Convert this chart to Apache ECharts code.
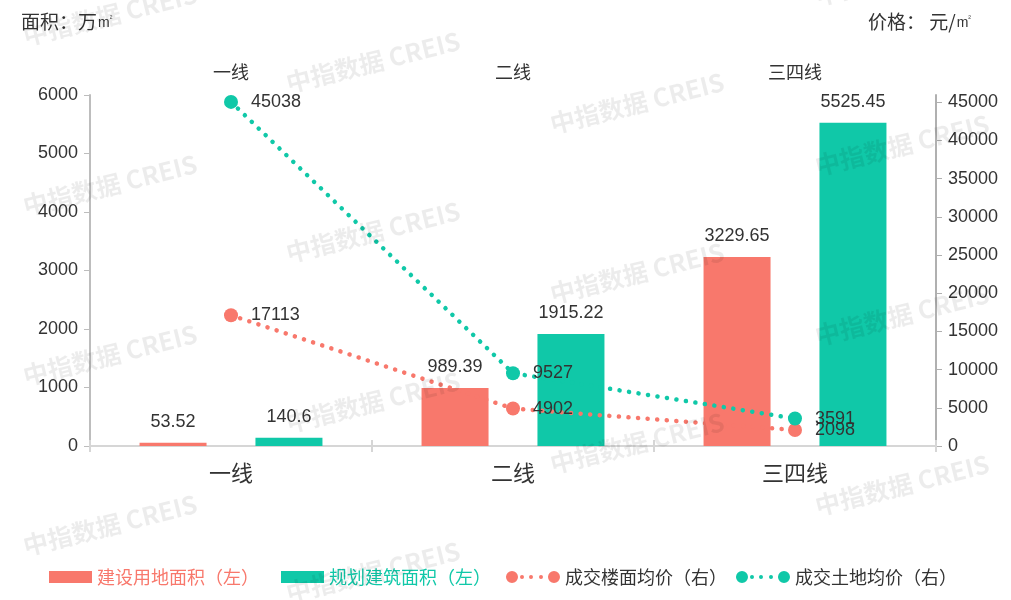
<!DOCTYPE html>
<html>
<head>
<meta charset="utf-8">
<style>
html,body{margin:0;padding:0;background:#fff;}
#chart{width:1011px;height:600px;}
</style>
<script src="https://cdn.jsdelivr.net/npm/echarts@6/dist/echarts.min.js"></script>
</head>
<body>
<div id="chart"></div>
<script>
const categories = ['一线', '二线', '三四线'];
const landArea = [53.52, 989.39, 3229.65];       // 建设用地面积（左）
const buildArea = [140.6, 1915.22, 5525.45];     // 规划建筑面积（左）
const floorPrice = [17113, 4902, 2098];          // 成交楼面均价（右）
const landPrice = [45038, 9527, 3591];           // 成交土地均价（右）
const seriesNames = ['建设用地面积（左）', '规划建筑面积（左）', '成交楼面均价（右）', '成交土地均价（右）'];

const RED = '#F8786C';
const GREEN = '#10C8A8';
const TXT = '#333';
const FONT = 'Noto Sans CJK SC, Liberation Sans, sans-serif';
const NUMFONT = 'Liberation Sans, Noto Sans CJK SC, sans-serif';

// watermark tile centres
const wmCols = [
  {x: 110, ys: [15, 185, 355, 525]},
  {x: 373, ys: [62, 232, 402, 572]},
  {x: 637, ys: [103, 273, 443]},
  {x: 902, ys: [-25, 145, 315, 485]}
];
const watermarks = [];
wmCols.forEach(c => c.ys.forEach(y => {
  watermarks.push({
    type: 'text', x: c.x, y: y, rotation: 0.245, z: 100, silent: true,
    style: {
      text: '中指数据 CREIS', x: 0, y: 0, align: 'center', verticalAlign: 'middle',
      fill: 'rgba(0,0,0,0.075)', font: 'bold 25px Noto Sans CJK SC, sans-serif'
    }
  });
}));

const lineIcon = 'path://M0,6a6,6 0 1,0 12,0a6,6 0 1,0 -12,0Z' +
  'M14,6a2,2 0 1,0 4,0a2,2 0 1,0 -4,0Z' +
  'M23,6a2,2 0 1,0 4,0a2,2 0 1,0 -4,0Z' +
  'M33,6a2,2 0 1,0 4,0a2,2 0 1,0 -4,0Z' +
  'M42,6a6,6 0 1,0 12,0a6,6 0 1,0 -12,0Z';

const plain = v => String(v);

const chart = echarts.init(document.getElementById('chart'), null, {renderer: 'canvas'});
chart.setOption({
  animation: false,
  textStyle: {fontFamily: FONT},
  title: [
    {text: '面积：万{m|m}{s|²}', left: 16, top: 7,
      textStyle: {fontSize: 19, fontWeight: 'normal', color: TXT, fontFamily: FONT,
        rich: {
          m: {fontSize: 14, color: TXT, fontFamily: NUMFONT, padding: [3, 0, 0, 1]},
          s: {fontSize: 8, color: TXT, fontFamily: NUMFONT, padding: [0, 0, 6, 0]}
        }}},
    {text: '价格： 元/{m|m}{s|²}', right: 35, top: 7,
      textStyle: {fontSize: 19, fontWeight: 'normal', color: TXT, fontFamily: FONT,
        rich: {
          m: {fontSize: 14, color: TXT, fontFamily: NUMFONT, padding: [3, 0, 0, 1]},
          s: {fontSize: 8, color: TXT, fontFamily: NUMFONT, padding: [0, 0, 6, 0]}
        }}}
  ],
  legend: [
    {
      left: 44, top: 563, itemWidth: 43, itemHeight: 12, itemGap: 22,
      textStyle: {fontSize: 18, fontFamily: FONT},
      data: [
        {name: seriesNames[0], icon: 'rect', textStyle: {color: RED}},
        {name: seriesNames[1], icon: 'rect', textStyle: {color: GREEN}}
      ]
    },
    {
      left: 501, top: 563, itemWidth: 54, itemHeight: 12, itemGap: 9,
      textStyle: {fontSize: 18, fontFamily: FONT, color: TXT},
      data: [
        {name: seriesNames[2], icon: lineIcon, itemStyle: {color: RED, borderWidth: 0}},
        {name: seriesNames[3], icon: lineIcon, itemStyle: {color: GREEN, borderWidth: 0}}
      ]
    }
  ],
  grid: {left: 90, right: 75, top: 95, bottom: 154, containLabel: false},
  xAxis: [
    {
      type: 'category', data: categories, position: 'bottom',
      axisLine: {lineStyle: {color: '#d6d6d6', width: 2}},
      axisTick: {show: true, length: 6, lineStyle: {color: '#d6d6d6', width: 2}},
      axisLabel: {fontSize: 22, color: TXT, margin: 16, fontFamily: FONT},
      splitLine: {show: false}
    },
    {
      type: 'category', data: categories, position: 'top',
      axisLine: {lineStyle: {color: '#d6d6d6', width: 2}},
      axisTick: {show: true, length: 6, lineStyle: {color: '#d6d6d6', width: 2}},
      axisLabel: {fontSize: 18, color: TXT, margin: 14, fontFamily: FONT},
      splitLine: {show: false}
    }
  ],
  yAxis: [
    {
      type: 'value', min: 0, max: 6000, interval: 1000, position: 'left',
      axisLine: {show: true, lineStyle: {color: '#bdbdbd', width: 2}},
      axisTick: {show: true, length: 6, lineStyle: {color: '#bdbdbd'}},
      axisLabel: {fontSize: 18, color: TXT, margin: 12, fontFamily: NUMFONT, formatter: plain},
      splitLine: {show: false}
    },
    {
      type: 'value', min: 0, max: 45940, interval: 5000, position: 'right',
      axisLine: {show: true, lineStyle: {color: '#b0b0b0', width: 2}},
      axisTick: {show: true, length: 6, lineStyle: {color: '#b0b0b0'}},
      axisLabel: {fontSize: 18, color: TXT, margin: 12, fontFamily: NUMFONT, showMaxLabel: false, formatter: plain},
      splitLine: {show: false}
    }
  ],
  series: [
    {
      name: seriesNames[0], type: 'bar', data: landArea, xAxisIndex: 0, yAxisIndex: 0,
      barWidth: 67, barGap: '73%', itemStyle: {color: RED},
      label: {show: true, position: 'top', distance: 12, fontSize: 18, color: TXT, fontFamily: NUMFONT}
    },
    {
      name: seriesNames[1], type: 'bar', data: buildArea, xAxisIndex: 0, yAxisIndex: 0,
      barWidth: 67, barGap: '73%', itemStyle: {color: GREEN},
      label: {show: true, position: 'top', distance: 12, fontSize: 18, color: TXT, fontFamily: NUMFONT}
    },
    {
      name: seriesNames[2], type: 'line', data: floorPrice, xAxisIndex: 0, yAxisIndex: 1, z: 5,
      symbol: 'circle', symbolSize: 14, itemStyle: {color: RED},
      lineStyle: {color: RED, width: 4.5, type: [0.1, 9.5], cap: 'round'},
      label: {show: true, position: 'right', distance: 13, fontSize: 18, color: TXT, fontFamily: NUMFONT}
    },
    {
      name: seriesNames[3], type: 'line', data: landPrice, xAxisIndex: 0, yAxisIndex: 1, z: 5,
      symbol: 'circle', symbolSize: 14, itemStyle: {color: GREEN},
      lineStyle: {color: GREEN, width: 4.5, type: [0.1, 9.5], cap: 'round'},
      label: {show: true, position: 'right', distance: 13, fontSize: 18, color: TXT, fontFamily: NUMFONT}
    }
  ],
  graphic: watermarks
});
</script>
</body>
</html>
